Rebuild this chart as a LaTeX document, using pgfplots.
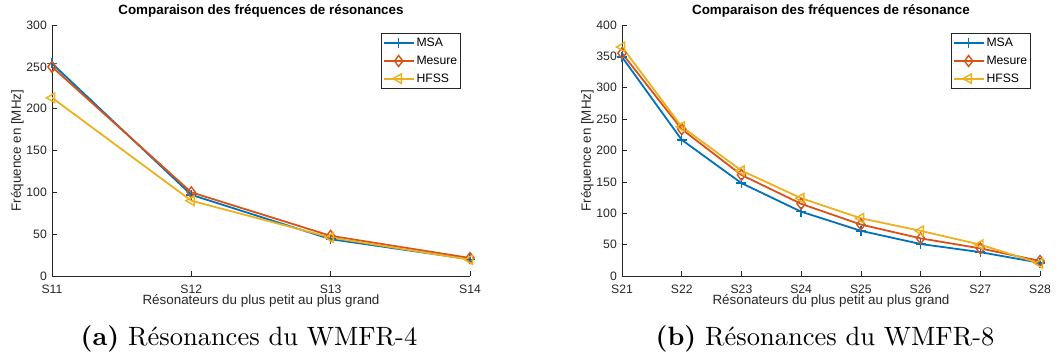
\documentclass[border=0pt]{standalone}
\usepackage{fontspec}
\usepackage{pgfplots}
\pgfplotsset{compat=1.18}
\newfontfamily\arial{Liberation Sans}
\newfontfamily\capfont{lmroman10-regular.otf}[BoldFont=lmroman10-bold.otf]
\definecolor{axgray}{rgb}{0.15,0.15,0.15}
\definecolor{c1}{rgb}{0,0.447,0.741}
\definecolor{c2}{rgb}{0.85,0.325,0.098}
\definecolor{c3}{rgb}{0.929,0.694,0.125}
\pgfplotsset{
  mystyle/.style={
    scale only axis, width=418pt, height=251pt,
    axis x line*=bottom, axis y line*=left,
    axis line style={axgray, line width=0.6pt},
    tick style={axgray, line width=0.6pt},
    tick align=inside, major tick length=4.5pt,
    ymin=0,
    /pgf/number format/assume math mode=true,
    ticklabel style={font=\arial\fontsize{12.2}{14}\selectfont, text=axgray},
    yticklabel style={anchor=east, inner sep=0pt, xshift=-5pt},
    xticklabel style={anchor=base, inner sep=0pt, yshift=-17.7pt},
    title style={font=\arial\bfseries\fontsize{13.4}{15}\selectfont, at={(axis description cs:0.5,1.0179)}, anchor=base, inner sep=0pt},
    xlabel style={font=\arial\fontsize{13.4}{15}\selectfont, text=axgray, at={(axis description cs:0.5,-0.1155)}, anchor=base, inner sep=0pt},
    ylabel style={font=\arial\fontsize{13.4}{15}\selectfont, text=axgray, at={(axis description cs:-0.0742,0.5)}, anchor=base, inner sep=0pt},
    legend style={at={(axis description cs:0.9785,0.968)}, anchor=north east, draw=axgray, line width=0.6pt, fill=white,
      font=\arial\fontsize{12.2}{14}\selectfont, inner xsep=1.5pt, inner ysep=3pt, row sep=3.7pt, cells={anchor=west}},
    legend image code/.code={\draw[mark repeat=2,mark phase=2] plot coordinates {(0pt,0pt) (15pt,0pt) (30pt,0pt)};},
    s1/.style={color=c1, line width=1.8pt, mark=+, mark size=5pt, mark options={color=c1, solid, line width=1.4pt}},
    s2/.style={color=c2, line width=1.8pt, mark=diamond, mark size=5.5pt, mark options={color=c2, solid, line width=1.4pt}},
    s3/.style={color=c3, line width=1.8pt, mark=triangle, mark size=5.5pt, mark options={color=c3, solid, line width=1.4pt, rotate=90}},
  }
}
\begin{document}
\begin{tikzpicture}[x=1pt,y=1pt]
\useasboundingbox (0pt,0pt) rectangle (1064pt,363pt);
\begin{axis}[mystyle, at={(52pt,87pt)}, anchor=south west,
  xmin=0, xmax=3, xtick={0,1,2,3}, xticklabels={S11,S12,S13,S14},
  ymax=300, ytick={0,50,...,300},
  title={Comparaison des fréquences de résonances},
  xlabel={Résonateurs du plus petit au plus grand},
  ylabel={Fréquence en [MHz]}]
\addplot[s1] coordinates {(0,254) (1,97) (2,44) (3,20)};
\addplot[s2] coordinates {(0,250) (1,100) (2,48) (3,21.5)};
\addplot[s3] coordinates {(0,213) (1,90) (2,46) (3,19.5)};
\legend{MSA,Mesure,HFSS}
\end{axis}
\begin{axis}[mystyle, at={(622pt,87pt)}, anchor=south west,
  xmin=0, xmax=7, xtick={0,...,7}, xticklabels={S21,S22,S23,S24,S25,S26,S27,S28},
  ymax=400, ytick={0,50,...,400},
  title={Comparaison des fréquences de résonance},
  xlabel={Résonateurs du plus petit au plus grand},
  ylabel={Fréquence en [MHz]}]
\addplot[s1] coordinates {(0,349) (1,217) (2,148) (3,102.5) (4,72) (5,51) (6,38) (7,21)};
\addplot[s2] coordinates {(0,355) (1,234) (2,161) (3,115) (4,82) (5,60) (6,44) (7,24)};
\addplot[s3] coordinates {(0,365) (1,238) (2,168) (3,124) (4,92) (5,72) (6,50) (7,20)};
\legend{MSA,Mesure,HFSS}
\end{axis}
\node[anchor=base, font=\capfont\fontsize{26.5}{30}\selectfont] at (249pt,17pt) {\textbf{(a)} Résonances du WMFR-4};
\node[anchor=base, font=\capfont\fontsize{26.5}{30}\selectfont] at (825pt,17pt) {\textbf{(b)} Résonances du WMFR-8};
\end{tikzpicture}
\end{document}
